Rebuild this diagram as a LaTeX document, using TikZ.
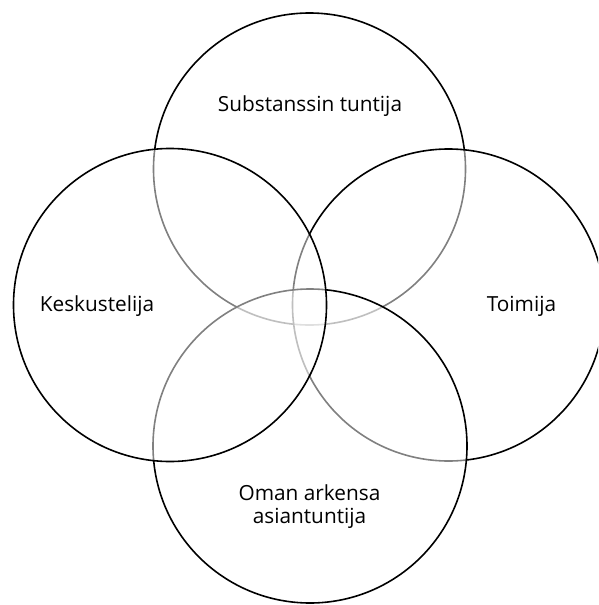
\documentclass[tikz,border=0pt]{standalone}
\usepackage{fontspec}
\setmainfont{Open Sans}[Ligatures=NoCommon]
\begin{document}
\begin{tikzpicture}[x=1pt,y=-1pt,
  ring/.style={circle, draw=black, line width=1.6pt, fill=white, fill opacity=0.5, draw opacity=1, inner sep=0pt, minimum size=#1},
  lbl/.style={font=\fontsize{20.8}{23}\selectfont, text=black, align=center, inner sep=0pt}]
\useasboundingbox (0,0) rectangle (598,605);
\clip (0,0) rectangle (598,605);
\node[ring=312pt] (ctop) at (309.5,169) {};
\node[ring=312pt] (cright) at (448.5,305) {};
\node[ring=314pt] (cbottom) at (310,446) {};
\node[ring=313pt] (cleft) at (170,305) {};
\node[lbl, anchor=base] (ltop) at (310,111) {Substanssin tuntija};
\node[lbl, anchor=base] (lleft) at (97,311) {Keskustelija};
\node[lbl, anchor=base] (lright) at (521.5,311) {Toimija};
\node[lbl, anchor=base] (lbot1) at (309.5,500.5) {Oman arkensa};
\node[lbl, anchor=base] (lbot2) at (309.5,523.5) {asiantuntija};
\end{tikzpicture}
\end{document}
